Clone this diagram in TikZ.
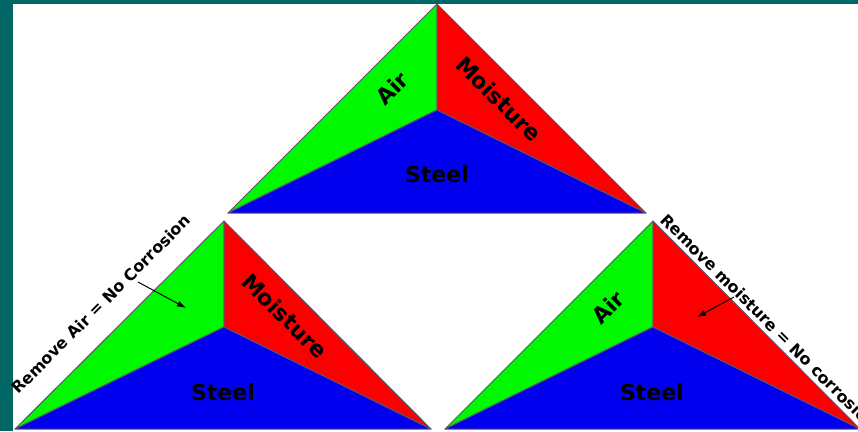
\documentclass[tikz,border=0pt]{standalone}
\usepackage{fontspec}
\setmainfont{DejaVu Sans}
\usetikzlibrary{arrows.meta}
\definecolor{mTeal}{HTML}{006666}
\definecolor{mAir}{HTML}{00F800}
\definecolor{mWet}{HTML}{FA0000}
\definecolor{mSteel}{HTML}{0000EE}
\definecolor{mEdge}{HTML}{5E5470}

\tikzset{
  part/.style={draw=mEdge, line width=1pt, line join=round},
  word/.style={font=\bfseries\fontsize{22}{22}\selectfont},
  note/.style={font=\bfseries\fontsize{16}{16}\selectfont},
  pointer/.style={-{Latex[length=9pt,width=6pt]}, line width=1pt},
}

\begin{document}
\begin{tikzpicture}[x=1pt, y=-1pt]
    \useasboundingbox (0,0) rectangle (858,431);
    \fill[mTeal] (0,0) rectangle (858,431);
    \fill[white] (13,4) rectangle (858,431);

    % top triangle
    \coordinate (topA) at (437,4);
    \coordinate (topL) at (228,213);
    \coordinate (topR) at (646,213);
    \coordinate (topM) at (437,110);
    \filldraw[part, fill=mAir] (topA) -- (topL) -- (topM) -- cycle;
    \filldraw[part, fill=mWet] (topA) -- (topM) -- (topR) -- cycle;
    \filldraw[part, fill=mSteel] (topL) -- (topM) -- (topR) -- cycle;
    \node[word, rotate=45] (topAir) at (392,88) {Air};
    \node[word, rotate=-45] (topWet) at (499,99) {Moisture};
    \node[word] (topSteel) at (437,174) {Steel};

    % no air
    \coordinate (lftA) at (224,221);
    \coordinate (lftL) at (15,429);
    \coordinate (lftR) at (431,429);
    \coordinate (lftM) at (224,327);
    \filldraw[part, fill=mAir] (lftA) -- (lftL) -- (lftM) -- cycle;
    \filldraw[part, fill=mWet] (lftA) -- (lftM) -- (lftR) -- cycle;
    \filldraw[part, fill=mSteel] (lftL) -- (lftM) -- (lftR) -- cycle;
    \node[word, rotate=-45] (lftWet) at (285,316) {Moisture};
    \node[word] (lftSteel) at (223,392) {Steel};
    \node[note, rotate=45] (lftNote) at (101,304) {Remove Air = No Corrosion};
    \coordinate (lftTail) at (138,282);
    \coordinate (lftTip) at (186,308);
    \draw[pointer] (lftTail) -- (lftTip);

    % no moisture
    \coordinate (rgtA) at (653,221);
    \coordinate (rgtL) at (445,429);
    \coordinate (rgtR) at (860,429);
    \coordinate (rgtM) at (653,327);
    \filldraw[part, fill=mAir] (rgtA) -- (rgtL) -- (rgtM) -- cycle;
    \filldraw[part, fill=mWet] (rgtA) -- (rgtM) -- (rgtR) -- cycle;
    \filldraw[part, fill=mSteel] (rgtL) -- (rgtM) -- (rgtR) -- cycle;
    \node[word, rotate=45] (rgtAir) at (608,307) {Air};
    \node[word] (rgtSteel) at (652,392) {Steel};
    \node[note, rotate=-45] (rgtNote) at (769,322) {Remove moisture = No corrosion};
    \coordinate (rgtTail) at (734,297);
    \coordinate (rgtTip) at (697,317);
    \draw[pointer] (rgtTail) -- (rgtTip);
\end{tikzpicture}
\end{document}
